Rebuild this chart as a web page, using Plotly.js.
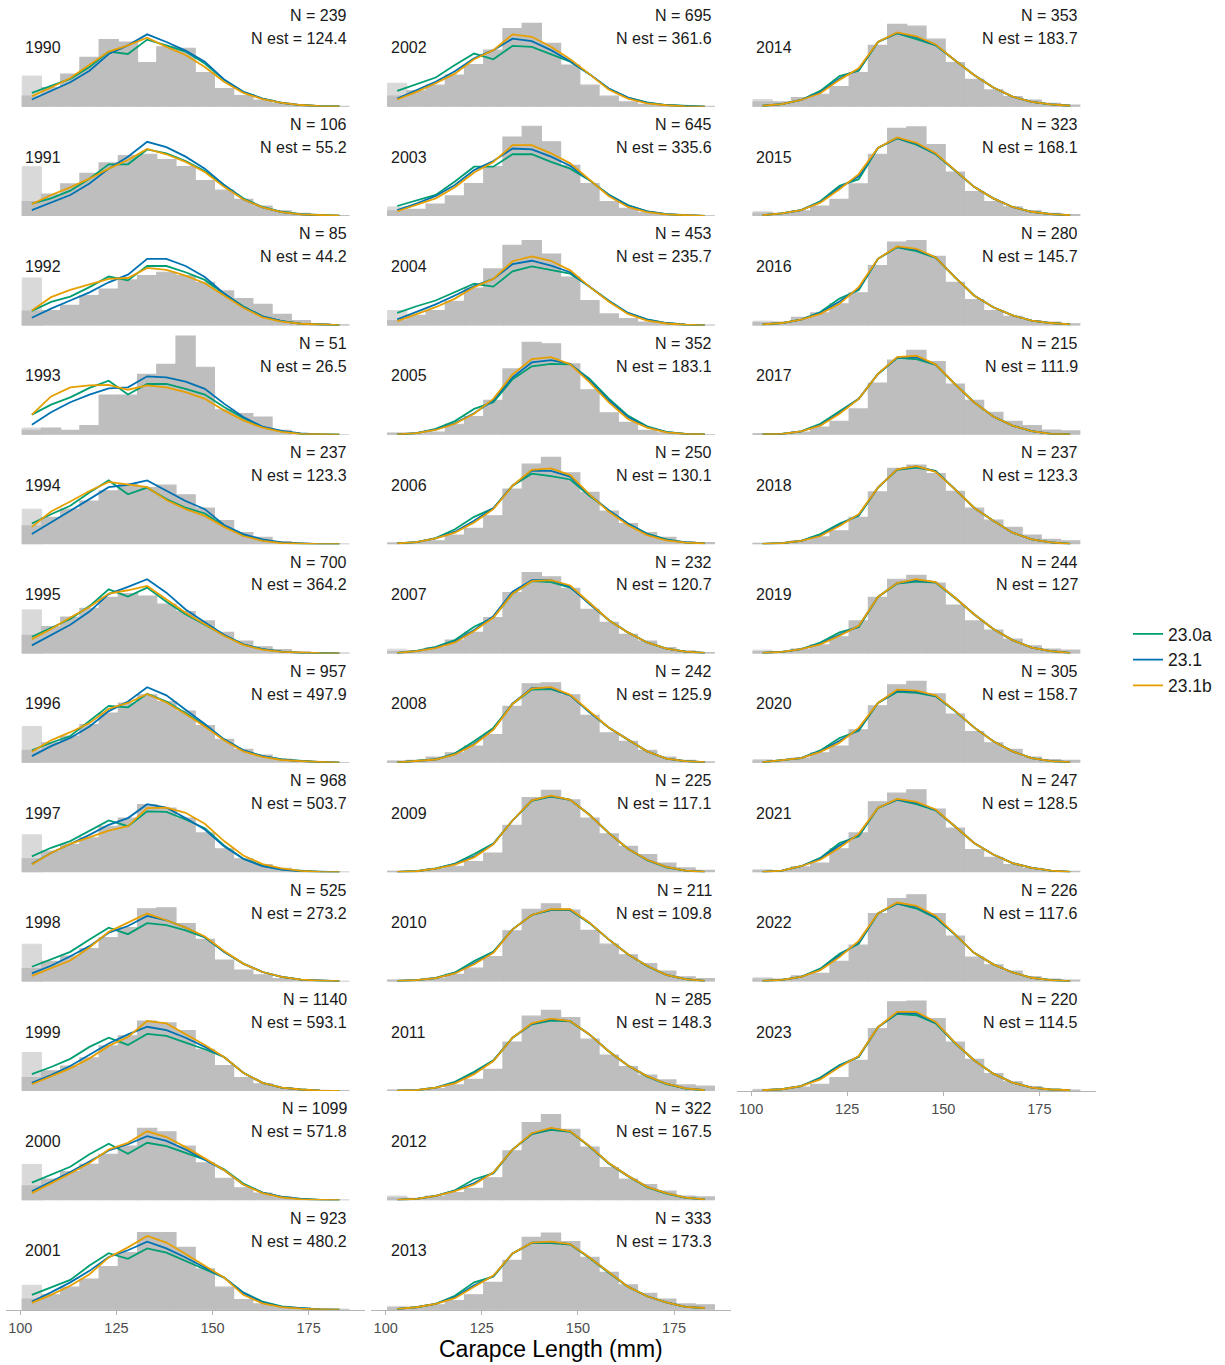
<!DOCTYPE html>
<html><head><meta charset="utf-8">
<script src="https://cdn.plot.ly/plotly-3.0.1.min.js"></script>
<style>body{margin:0;background:#fff}#chart{width:1225px;height:1365px}</style>
</head><body><div id="chart"></div>
<script>
const years = [1990,1991,1992,1993,1994,1995,1996,1997,1998,1999,2000,2001,2002,2003,2004,2005,2006,2007,2008,2009,2010,2011,2012,2013,2014,2015,2016,2017,2018,2019,2020,2021,2022,2023];
const nObs = [239,106,85,51,237,700,957,968,525,1140,1099,923,695,645,453,352,250,232,242,225,211,285,322,333,353,323,280,215,237,244,305,247,226,220];
const nEst = [124.4,55.2,44.2,26.5,123.3,364.2,497.9,503.7,273.2,593.1,571.8,480.2,361.6,335.6,235.7,183.1,130.1,120.7,125.9,117.1,109.8,148.3,167.5,173.3,183.7,168.1,145.7,111.9,123.3,127,158.7,128.5,117.6,114.5];
const binMid = [103,108,113,118,123,128,133,138,143,148,153,158,163,168,173,178,183];
const xTicks = [100,125,150,175];
const seriesNames = ['23.0a','23.1','23.1b'];

// observed proportions (%) per 5 mm bin
const obsPct = [
[2.2,4.0,6.8,10.3,14.0,13.5,9.2,12.5,12.2,7.1,3.8,2.3,1.4,0.7,0.3,0.1,0.05],
[3.0,4.6,6.7,8.9,11.1,12.6,12.9,11.8,10.3,7.4,5.4,3.5,2.1,1.1,0.55,0.2,0.07],
[3.0,3.1,4.2,6.25,7.6,9.5,10.4,11.1,10.4,9.0,7.2,5.6,4.4,2.3,1.0,0.35,0.1],
[0.9,1.4,0.9,1.9,8.3,8.3,12.6,14.7,20.6,14.1,5.2,4.4,3.7,0.9,0,0,0],
[3.8,5.6,7.3,9.0,11.1,12.5,11.8,12.3,10.3,7.5,4.9,2.4,1.4,0.55,0.15,0.07,0.03],
[3.8,5.6,7.6,9.4,11.7,12.5,12.0,10.3,8.75,6.8,4.4,2.6,1.4,0.8,0.35,0.14,0.07],
[2.6,4.2,5.6,8.0,10.4,12.5,14.2,12.8,10.8,7.8,4.9,2.8,1.6,0.8,0.4,0.2,0.07],
[2.8,4.4,5.8,7.2,9.6,11.3,14.1,13.4,11.3,8.2,4.9,2.8,1.6,0.8,0.35,0.15,0.05],
[2.7,4.2,5.3,6.9,9.2,11.25,15.2,15.4,12.1,8.8,4.5,2.4,1.4,0.6,0.3,0.1,0.05],
[2.8,4.2,5.2,6.9,9.4,11.5,14.6,14.2,12.6,8.7,5.3,2.8,1.5,0.7,0.3,0.1,0.05],
[3.0,4.4,6.0,7.5,9.6,11.3,15.0,14.3,11.3,7.8,4.6,2.6,1.5,0.7,0.3,0.1,0.05],
[2.2,3.1,4.7,6.4,9.0,11.9,16.1,16.1,13.0,8.5,4.7,2.1,1.2,0.6,0.3,0.1,0.05],
[2.2,3.3,4.5,6.6,8.8,11.8,16.3,17.4,13.2,8.7,4.5,2.2,1.0,0.5,0.3,0.1,0.05],
[1.1,1.4,2.5,4.2,6.8,10.3,16.5,18.75,15.5,10.6,6.8,3.0,1.6,0.8,0.35,0.14,0.05],
[1.0,2.1,3.1,5.0,7.8,11.8,16.7,17.7,14.9,10.1,5.2,2.4,1.4,0.7,0.35,0.14,0.05],
[0.3,0.2,0.55,2.2,3.8,7.2,13.75,19.3,19.0,14.8,9.4,4.6,2.6,0.9,0.4,0.15,0.05],
[0.15,0.3,0.7,1.9,3.3,5.9,11.5,16.7,18.1,14.9,10.8,6.9,4.3,2.4,1.4,0.55,0.3],
[0.4,0.55,1.25,2.8,4.4,7.5,12.7,16.9,16.0,13.6,9.2,6.5,4.0,2.6,1.25,0.55,0.2],
[0.35,0.5,1.2,2.1,3.5,5.9,11.8,16.5,16.7,14.2,9.9,6.25,4.5,2.6,1.2,0.5,0.2],
[0.2,0.35,0.7,1.25,2.2,4.0,9.8,15.6,17.1,15.1,11.3,8.0,5.4,3.7,1.9,0.9,0.4],
[0.3,0.3,0.7,1.5,2.8,5.2,10.6,15.1,16.25,14.9,10.7,7.8,5.6,3.75,2.2,1.0,0.6],
[0.15,0.2,0.5,1.25,2.4,4.5,10.2,15.6,16.8,15.3,10.8,7.5,5.1,3.3,2.3,1.25,1.0],
[0.5,0.4,0.9,1.6,2.5,4.7,10.3,16.2,17.9,14.8,11.1,6.8,4.4,3.3,1.9,0.9,0.7],
[0.4,0.5,1.0,1.9,3.1,5.7,10.3,15.1,16.0,14.2,10.9,7.8,5.2,3.4,2.2,1.2,1.0],
[1.0,1.0,1.9,2.6,4.2,7.1,12.8,17.2,16.8,14.1,9.2,5.7,3.5,2.1,1.4,0.7,0.35],
[0.6,0.55,1.1,2.1,3.5,6.7,12.9,18.3,18.6,14.9,9.2,5.1,3.0,1.9,1.1,0.55,0.3],
[0.6,0.7,1.7,2.6,4.5,6.8,12.5,17.4,17.7,14.4,9.0,5.4,3.1,1.9,1.0,0.7,0.35],
[0.2,0.2,0.55,1.6,2.8,5.4,10.8,15.6,17.6,15.3,10.6,7.2,4.7,2.8,1.9,1.0,0.8],
[0.15,0.15,0.7,1.5,2.8,5.6,10.9,15.8,16.5,14.7,11.0,7.5,5.0,3.5,1.9,1.0,0.7],
[0.4,0.35,0.9,1.8,3.5,6.8,11.7,15.5,16.3,14.7,10.1,6.8,4.9,3.0,1.6,0.9,0.7],
[0.4,0.35,1.0,2.1,3.5,6.9,11.9,16.3,17.0,14.4,10.2,6.5,4.2,2.8,1.2,0.7,0.5],
[0.3,0.35,1.1,1.9,4.9,8.2,14.7,16.5,17.2,13.2,9.2,4.7,3.1,1.6,0.8,0.35,0.2],
[0.5,0.5,1.2,1.7,4.2,7.6,14.2,17.3,18.1,14.2,9.5,5.1,3.5,2.2,1.0,0.5,0.3],
[0.2,0.35,0.8,1.4,2.8,6.4,13.0,18.6,18.75,15.1,10.2,6.6,3.6,1.9,0.9,0.35,0.15]
];

// first bin including smaller sizes (lighter bar)
const firstBinAll = [6.4,10.3,9.9,1.4,7.3,9.1,7.6,7.8,7.8,8.0,7.5,5.1,4.9,1.9,3.1,0.4,0.35,0.9,0.35,0.2,0.3,0.15,0.9,0.7,1.5,0.9,0.9,0.2,0.15,0.7,0.7,0.55,0.8,0.35];

const fit230a = [
[2.9,4.3,5.8,8.3,11.5,11.0,14.0,12.8,11.5,9.0,5.6,3.1,1.7,0.8,0.35,0.14,0.07],
[2.6,3.7,5.3,7.8,10.8,10.8,13.9,13.1,11.5,9.4,6.5,3.7,1.9,0.9,0.4,0.2,0.07],
[3.0,4.9,6.0,8.0,10.2,9.4,12.4,12.4,11.1,9.5,6.6,4.0,1.9,0.9,0.35,0.14,0.05],
[4.2,6.3,7.8,9.8,11.3,8.4,10.6,10.6,9.6,8.4,5.8,3.5,1.6,0.7,0.2,0.07,0.02],
[4.3,6.25,8.0,10.8,13.3,10.4,11.8,9.4,7.6,6.4,3.8,1.9,0.8,0.3,0.07,0.02,0.01],
[3.5,5.3,7.2,9.9,13.4,11.9,13.75,10.8,8.2,6.0,3.8,1.9,0.9,0.4,0.15,0.07,0.02],
[2.6,4.2,5.6,8.7,11.9,11.6,14.4,12.8,10.4,7.8,4.9,2.6,1.4,0.7,0.35,0.14,0.02],
[3.3,5.1,6.5,8.7,10.8,9.6,12.7,12.6,11.0,9.2,5.6,2.8,1.4,0.6,0.3,0.07,0.02],
[3.1,4.7,6.2,8.8,11.25,9.9,12.2,11.8,10.7,9.2,6.25,3.75,2.0,1.0,0.4,0.2,0.07],
[3.5,5.0,6.7,9.2,11.1,9.6,11.9,11.5,10.1,8.7,7.1,3.8,1.7,0.7,0.3,0.07,0.02],
[3.7,5.4,7.0,9.6,11.8,9.7,12.0,11.3,9.9,8.5,6.5,3.5,1.6,0.7,0.3,0.07,0.02],
[3.1,4.7,6.2,9.2,11.8,10.6,12.8,11.9,10.2,8.5,6.7,3.6,1.7,0.7,0.3,0.07,0.02],
[3.3,4.7,6.1,8.7,11.1,9.9,12.7,12.5,11.0,9.4,6.8,3.8,1.9,0.9,0.35,0.14,0.02],
[2.1,3.2,4.4,7.2,10.3,10.3,12.9,12.9,11.3,9.9,7.5,4.5,2.3,1.0,0.4,0.14,0.02],
[2.6,4.0,5.2,6.9,8.7,8.1,11.3,12.3,11.6,10.8,8.1,5.2,2.6,1.25,0.5,0.14,0.02],
[0.07,0.35,1.25,2.85,5.4,6.8,11.6,14.3,14.8,14.7,11.7,7.6,4.0,1.75,0.6,0.2,0.07],
[0.15,0.4,1.25,3.1,5.7,7.5,12.2,14.7,14.2,13.5,10.1,7.1,4.3,2.2,1.0,0.35,0.15],
[0.15,0.55,1.4,2.8,5.6,7.5,12.5,15.1,14.9,13.75,10.6,7.0,4.4,2.3,1.0,0.4,0.15],
[0.07,0.35,0.75,2.0,4.5,7.3,12.3,15.3,15.4,14.1,10.6,7.4,4.8,2.4,0.9,0.35,0.15],
[0.07,0.2,0.8,1.8,3.8,6.0,10.8,14.9,15.8,15.1,12.0,8.2,4.9,2.5,1.0,0.35,0.07],
[0.15,0.3,0.75,1.9,4.3,6.25,10.9,13.9,14.9,14.9,12.2,8.8,5.7,3.2,1.4,0.5,0.15],
[0.07,0.15,0.7,1.9,4.0,6.4,11.1,13.9,14.7,14.5,11.8,8.3,5.3,3.0,1.4,0.5,0.15],
[0.07,0.3,0.9,2.1,4.4,5.6,10.6,13.8,14.7,14.3,11.2,7.7,5.0,2.7,1.4,0.5,0.2],
[0.15,0.5,1.2,2.9,5.7,6.9,11.75,13.9,13.9,13.6,10.8,7.7,4.8,2.8,1.5,0.6,0.3],
[0.2,0.55,1.4,3.3,6.4,7.5,13.5,15.3,14.1,12.8,9.7,6.6,4.0,2.1,1.0,0.5,0.2],
[0.2,0.55,1.25,3.1,6.3,7.7,14.2,16.2,14.9,12.9,9.5,6.1,3.7,1.9,0.9,0.4,0.2],
[0.2,0.5,1.2,2.8,5.6,7.4,13.9,16.3,15.5,14.1,10.1,6.25,3.8,2.1,1.0,0.5,0.2],
[0.07,0.2,0.7,2.3,4.9,7.5,12.7,16.0,15.8,14.6,10.6,6.8,3.8,1.9,0.75,0.2,0.07],
[0.07,0.2,0.7,2.1,4.3,5.9,11.8,15.5,16.0,15.3,11.5,7.6,4.9,2.4,1.0,0.35,0.07],
[0.15,0.35,0.9,2.3,4.4,5.5,11.8,14.6,15.0,14.8,11.6,8.2,5.1,2.8,1.25,0.5,0.15],
[0.15,0.5,1.0,2.6,5.2,6.7,12.5,14.8,14.6,13.9,10.8,7.4,4.5,2.4,1.0,0.35,0.15],
[0.07,0.35,1.25,3.0,6.1,7.5,13.4,15.1,14.2,12.9,9.6,6.1,3.7,1.9,0.9,0.35,0.07],
[0.15,0.35,1.0,2.7,5.8,7.9,14.2,16.25,15.25,13.3,9.8,6.0,3.6,1.9,0.8,0.3,0.07],
[0.15,0.35,1.0,2.8,5.4,7.1,13.3,16.1,15.8,14.1,10.0,6.4,3.6,1.75,0.7,0.3,0.15]
];

const fit231 = [
[1.5,3.3,5.1,7.5,11.0,12.8,15.1,13.5,11.7,9.4,5.7,3.1,1.7,0.8,0.35,0.14,0.07],
[1.25,2.8,4.4,6.8,9.9,12.4,15.5,14.4,12.4,9.9,6.5,3.5,1.8,0.8,0.35,0.14,0.07],
[1.6,3.5,5.2,6.9,9.0,10.6,13.9,13.9,12.4,10.1,6.7,3.8,1.9,0.9,0.35,0.14,0.05],
[2.1,4.7,6.8,8.4,9.7,9.9,12.2,12.0,11.1,9.6,6.5,3.7,1.7,0.8,0.3,0.07,0.02],
[2.1,4.5,6.9,9.4,11.9,12.4,13.3,11.1,9.0,7.3,4.0,2.1,1.0,0.35,0.14,0.02,0.01],
[1.7,3.9,6.0,8.75,12.4,13.9,15.5,12.7,9.2,6.5,3.9,1.9,0.9,0.4,0.15,0.07,0.02],
[1.4,3.5,5.2,7.6,10.8,12.8,15.8,14.1,11.1,8.1,4.9,2.6,1.4,0.7,0.35,0.14,0.02],
[1.7,4.0,5.9,7.8,9.9,11.3,14.2,13.5,11.3,8.9,5.4,2.8,1.25,0.55,0.2,0.07,0.02],
[1.7,3.3,5.3,7.4,10.2,11.6,13.7,12.8,11.25,9.3,6.25,3.75,2.0,1.0,0.4,0.2,0.07],
[1.7,3.3,5.2,7.5,9.9,11.8,13.4,12.7,11.1,9.2,7.1,3.8,1.7,0.7,0.3,0.07,0.02],
[1.9,3.9,5.9,8.1,10.4,11.7,13.4,12.4,10.6,8.5,6.3,3.3,1.6,0.7,0.3,0.07,0.02],
[1.7,3.6,5.7,8.1,11.0,12.4,14.2,12.8,10.9,8.8,6.7,3.5,1.5,0.6,0.3,0.07,0.02],
[1.7,3.5,5.2,7.4,10.1,11.8,14.2,13.7,11.8,9.5,6.8,3.8,1.9,0.8,0.35,0.14,0.02],
[1.25,2.6,4.2,6.5,9.6,11.5,14.1,13.9,12.4,10.5,7.5,4.4,2.2,1.0,0.4,0.14,0.02],
[1.25,2.8,4.4,6.25,8.2,9.7,12.8,13.5,12.5,11.1,8.1,5.1,2.6,1.2,0.5,0.14,0.02],
[0.07,0.35,1.1,2.4,4.5,7.2,12.0,15.1,15.6,14.8,11.3,7.2,3.7,1.6,0.55,0.2,0.07],
[0.15,0.4,1.2,2.6,4.9,7.5,12.2,15.3,15.3,14.1,10.3,7.1,4.3,2.1,0.9,0.35,0.15],
[0.15,0.5,1.25,2.5,4.9,7.8,12.9,15.3,15.3,13.9,10.3,7.0,4.4,2.3,1.0,0.4,0.15],
[0.07,0.35,0.7,1.8,4.0,7.0,12.4,15.6,15.6,14.1,10.6,7.4,4.9,2.4,0.9,0.35,0.15],
[0.07,0.2,0.75,1.7,3.3,5.9,10.8,15.0,15.9,15.1,12.0,8.2,4.9,2.6,1.1,0.35,0.07],
[0.15,0.3,0.7,1.75,3.8,6.1,10.9,13.9,15.0,15.0,12.3,8.8,5.7,3.3,1.4,0.5,0.15],
[0.07,0.15,0.7,1.7,3.7,6.3,11.1,14.0,15.0,14.6,11.8,8.3,5.3,3.1,1.5,0.55,0.15],
[0.07,0.3,0.9,2.0,3.6,5.8,10.6,13.9,15.0,14.4,11.3,7.8,5.1,2.8,1.5,0.55,0.2],
[0.15,0.5,1.2,2.6,5.1,7.0,11.75,14.0,14.1,13.7,10.9,7.8,4.8,2.8,1.5,0.6,0.35],
[0.2,0.55,1.4,3.0,5.9,7.8,13.5,15.4,14.5,12.9,9.7,6.6,4.0,2.1,1.0,0.5,0.2],
[0.2,0.55,1.25,2.9,5.9,8.3,14.2,16.3,15.1,13.0,9.6,6.1,3.7,1.9,0.9,0.4,0.2],
[0.2,0.5,1.2,2.6,5.0,7.7,13.9,16.4,15.8,14.2,10.1,6.25,3.8,2.1,1.0,0.5,0.2],
[0.07,0.2,0.7,2.0,4.6,7.5,12.7,16.1,16.2,14.7,10.6,6.8,3.8,1.9,0.75,0.2,0.07],
[0.07,0.2,0.7,1.8,4.0,6.1,11.8,15.6,16.2,15.2,11.5,7.6,4.9,2.4,1.0,0.35,0.07],
[0.15,0.35,0.9,2.0,3.9,5.7,11.8,14.7,15.3,14.9,11.7,8.2,5.1,2.8,1.25,0.5,0.15],
[0.15,0.5,1.0,2.4,4.6,7.0,12.5,15.1,14.9,14.0,10.9,7.4,4.5,2.4,1.0,0.35,0.15],
[0.07,0.35,1.25,2.8,5.6,7.8,13.4,15.2,14.5,13.0,9.6,6.1,3.7,1.9,0.9,0.35,0.07],
[0.15,0.35,1.0,2.5,5.4,8.2,14.2,16.4,15.6,13.5,9.9,6.0,3.6,1.9,0.8,0.3,0.07],
[0.15,0.35,1.0,2.6,5.2,7.2,13.3,16.3,16.2,14.3,10.1,6.4,3.6,1.75,0.7,0.3,0.15]
];

const fit231b = [
[2.2,4.0,6.0,8.7,11.5,12.8,14.4,12.5,10.8,8.3,5.2,2.9,1.6,0.8,0.35,0.14,0.07],
[2.5,4.4,6.0,7.8,9.9,11.7,14.0,12.9,11.3,9.2,6.1,3.5,1.8,0.8,0.35,0.14,0.07],
[3.1,5.9,7.4,8.5,9.7,9.9,12.0,11.6,10.4,8.8,6.25,3.7,1.7,0.8,0.35,0.14,0.05],
[4.2,8.0,9.9,10.3,10.4,9.4,10.3,9.9,8.9,7.5,5.1,3.0,1.5,0.6,0.2,0.07,0.02],
[3.6,6.8,8.9,11.1,13.0,12.4,11.9,9.2,7.3,5.9,3.6,1.7,0.7,0.2,0.07,0.02,0.01],
[3.0,5.1,7.5,9.7,12.5,13.2,14.1,11.3,8.5,6.1,3.7,1.8,0.8,0.35,0.15,0.07,0.02],
[2.3,4.7,6.4,8.3,11.3,12.5,14.4,12.6,10.2,7.6,4.7,2.4,1.25,0.6,0.35,0.14,0.02],
[1.6,4.0,5.9,7.3,8.7,9.6,13.4,13.5,12.4,10.1,6.5,3.5,1.7,0.8,0.3,0.07,0.02],
[1.2,2.8,4.4,7.1,10.4,12.3,14.2,12.8,11.25,9.4,6.4,3.75,2.0,1.0,0.4,0.2,0.07],
[1.4,3.0,4.7,6.8,9.4,11.25,14.6,14.1,11.9,9.6,7.1,3.8,1.7,0.7,0.3,0.07,0.02],
[1.5,3.5,5.6,7.8,10.6,12.0,14.4,13.2,11.1,8.75,6.3,3.3,1.5,0.6,0.2,0.07,0.02],
[1.4,3.1,5.0,7.4,10.9,13.0,15.4,14.0,11.6,9.2,6.7,3.1,1.3,0.55,0.2,0.07,0.02],
[1.5,3.1,4.9,6.9,9.9,11.8,15.1,14.6,12.5,9.9,6.8,3.6,1.7,0.7,0.3,0.07,0.02],
[1.0,2.3,3.7,6.0,9.1,11.3,14.8,14.8,13.1,11.0,7.5,4.2,1.9,0.8,0.35,0.14,0.02],
[0.9,2.3,3.8,5.6,8.0,9.7,13.4,14.4,13.5,11.5,8.1,5.0,2.4,1.0,0.4,0.14,0.02],
[0.07,0.35,1.0,2.3,4.4,7.5,12.6,15.8,16.2,14.7,11.0,6.8,3.3,1.5,0.5,0.2,0.07],
[0.15,0.4,1.2,2.4,4.5,7.3,12.2,15.5,15.8,14.4,10.4,6.8,4.0,1.9,0.8,0.3,0.15],
[0.15,0.5,1.1,2.3,4.7,7.5,12.5,15.1,15.3,14.2,10.6,7.0,4.4,2.3,1.0,0.4,0.15],
[0.07,0.35,0.7,1.75,3.8,6.9,12.3,15.5,15.8,14.2,10.7,7.4,4.9,2.4,0.9,0.35,0.15],
[0.07,0.2,0.75,1.6,3.1,5.8,10.8,15.0,16.0,15.1,12.0,8.2,4.9,2.6,1.1,0.35,0.07],
[0.15,0.3,0.7,1.7,3.6,6.0,10.9,13.9,15.1,15.1,12.3,8.8,5.7,3.3,1.4,0.5,0.15],
[0.07,0.15,0.7,1.6,3.5,6.25,11.1,14.1,15.1,14.6,11.8,8.3,5.3,3.1,1.5,0.55,0.15],
[0.07,0.3,0.9,1.9,3.3,5.8,10.6,14.0,15.1,14.4,11.3,7.8,5.1,2.8,1.5,0.55,0.2],
[0.15,0.5,1.2,2.4,4.8,7.1,11.75,14.0,14.2,13.7,10.9,7.8,4.8,2.8,1.5,0.6,0.35],
[0.2,0.55,1.4,2.8,5.6,8.0,13.5,15.5,14.7,13.0,9.7,6.6,4.0,2.1,1.0,0.5,0.2],
[0.2,0.55,1.25,2.8,5.6,8.75,14.2,16.4,15.3,13.1,9.6,6.1,3.7,1.9,0.9,0.4,0.2],
[0.2,0.5,1.2,2.4,4.5,8.0,13.9,16.5,16.0,14.2,10.1,6.25,3.8,2.1,1.0,0.5,0.2],
[0.07,0.2,0.7,1.9,4.4,7.5,12.7,16.2,16.5,14.7,10.6,6.8,3.8,1.9,0.75,0.2,0.07],
[0.07,0.2,0.7,1.7,3.8,6.25,11.8,15.6,16.3,15.1,11.5,7.6,4.9,2.4,1.0,0.35,0.07],
[0.15,0.35,0.9,1.9,3.7,5.8,11.8,14.7,15.5,14.9,11.7,8.2,5.1,2.8,1.25,0.5,0.15],
[0.15,0.5,1.0,2.3,4.2,7.3,12.5,15.3,15.1,14.1,10.9,7.4,4.5,2.4,1.0,0.35,0.15],
[0.07,0.35,1.25,2.6,5.1,8.0,13.4,15.3,14.7,13.1,9.6,6.1,3.7,1.9,0.9,0.35,0.07],
[0.15,0.35,1.0,2.4,5.1,8.5,14.2,16.5,15.8,13.75,9.9,6.0,3.6,1.9,0.8,0.3,0.07],
[0.15,0.35,1.0,2.4,5.0,7.3,13.3,16.5,16.5,14.4,10.1,6.4,3.6,1.75,0.7,0.3,0.15]
];

const lineColors = ['#009E73','#0072B2','#E69F00'];
const fits = [fit230a, fit231, fit231b];

const W = 1225, H = 1365;
const colLeft = [5.9, 371.3, 736.7];
const panelW = 359.4, panelH = 103;
const base0 = 106.7, rowStep = 109.36;
const yMax = 21.5;
const fontFam = 'Arial, "Liberation Sans", Helvetica, sans-serif';
const darkGrey = '#bebebe', lightGrey = '#d9d9d9';

const data = [];
const annotations = [];
const layout = {
  width: W, height: H,
  margin: {l: 0, r: 0, t: 0, b: 0},
  paper_bgcolor: '#ffffff', plot_bgcolor: 'rgba(0,0,0,0)',
  barmode: 'overlay',
  showlegend: true,
  hovermode: false,
  font: {family: fontFam, color: '#1a1a1a'},
  legend: {
    x: 1128 / W, xanchor: 'left', y: 1 - 660 / H, yanchor: 'middle',
    font: {size: 17.5, color: '#1a1a1a', family: fontFam},
    bgcolor: 'rgba(0,0,0,0)', itemwidth: 30, tracegroupgap: 0
  }
};

years.forEach((yr, i) => {
  const col = Math.floor(i / 12), row = i % 12;
  const n = i + 1;
  const xid = n === 1 ? 'x' : 'x' + n;
  const yid = n === 1 ? 'y' : 'y' + n;
  const xkey = n === 1 ? 'xaxis' : 'xaxis' + n;
  const ykey = n === 1 ? 'yaxis' : 'yaxis' + n;
  const yb = base0 + row * rowStep;
  const isBottom = (col < 2 && row === 11) || (col === 2 && i === years.length - 1);
  layout[xkey] = {
    domain: [colLeft[col] / W, (colLeft[col] + panelW) / W],
    range: [96.25, 189.75], anchor: yid,
    showgrid: false, zeroline: false,
    showline: isBottom, linecolor: '#b3b3b3', linewidth: 1,
    showticklabels: isBottom, ticks: isBottom ? 'outside' : '', ticklen: 4, tickwidth: 1, tickcolor: '#b3b3b3',
    tickvals: xTicks, ticklabelstandoff: 1,
    tickfont: {size: 14.5, color: '#4d4d4d', family: fontFam},
    fixedrange: true
  };
  layout[ykey] = {
    domain: [1 - yb / H, 1 - (yb - panelH) / H],
    range: [0, yMax], anchor: xid,
    visible: false, showgrid: false, zeroline: false, fixedrange: true
  };
  data.push({
    type: 'bar', x: [binMid[0]], y: [firstBinAll[i]], width: 5,
    xaxis: xid, yaxis: yid, marker: {color: lightGrey, line: {width: 1, color: lightGrey}},
    showlegend: false, hoverinfo: 'skip'
  });
  data.push({
    type: 'bar', x: binMid, y: obsPct[i], width: 5,
    xaxis: xid, yaxis: yid, marker: {color: darkGrey, line: {width: 1.2, color: darkGrey}},
    showlegend: false, hoverinfo: 'skip'
  });
  fits.forEach((f, k) => {
    data.push({
      type: 'scatter', mode: 'lines', x: binMid, y: f[i],
      xaxis: xid, yaxis: yid, name: seriesNames[k], legendgroup: seriesNames[k],
      showlegend: i === 0,
      line: {color: lineColors[k], width: 1.8}, hoverinfo: 'skip'
    });
  });
  annotations.push({
    xref: xid, yref: yid, x: 100.8, y: 12.3, xanchor: 'left', yanchor: 'middle',
    text: String(yr), showarrow: false, font: {size: 16, color: '#1a1a1a', family: fontFam}
  });
  annotations.push({
    xref: xid, yref: yid, x: 185.5, y: 19.1, xanchor: 'right', yanchor: 'middle',
    text: 'N = ' + nObs[i], showarrow: false, font: {size: 16, color: '#1a1a1a', family: fontFam}
  });
  annotations.push({
    xref: xid, yref: yid, x: 185.5, y: 14.3, xanchor: 'right', yanchor: 'middle',
    text: 'N est = ' + nEst[i], showarrow: false, font: {size: 16, color: '#1a1a1a', family: fontFam}
  });
});

annotations.push({
  xref: 'paper', yref: 'paper', x: 551 / W, y: 1 - 1349 / H, xanchor: 'center', yanchor: 'middle',
  text: 'Carapce Length (mm)', showarrow: false, font: {size: 23, color: '#000000', family: fontFam}
});
layout.annotations = annotations;

Plotly.newPlot('chart', data, layout, {staticPlot: true, displayModeBar: false});
</script>
</body></html>
